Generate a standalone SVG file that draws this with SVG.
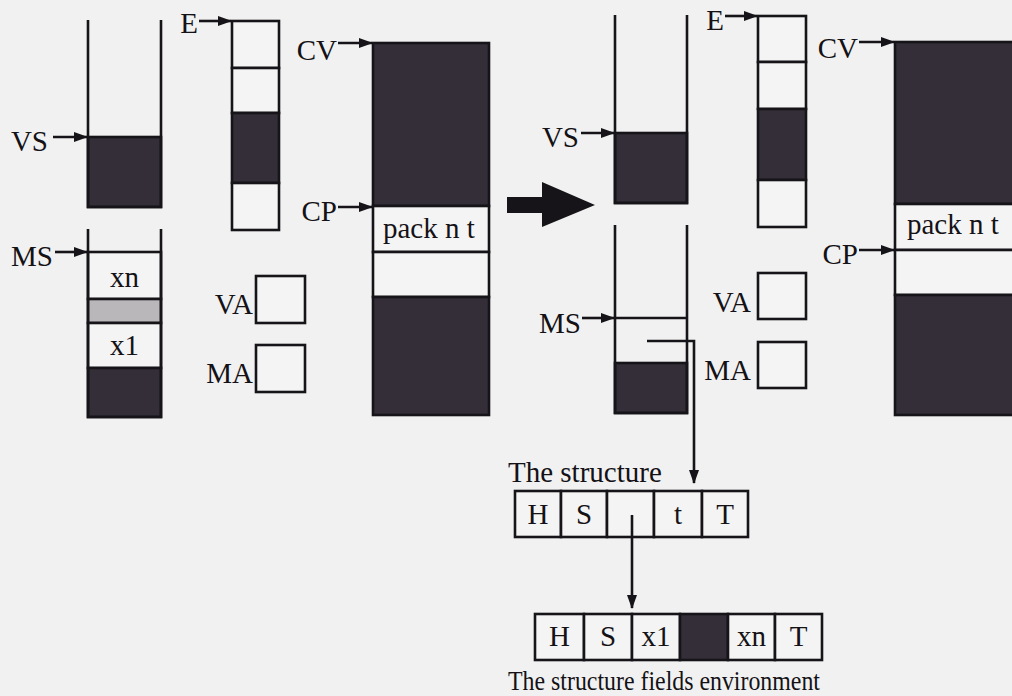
<svg xmlns="http://www.w3.org/2000/svg" width="1012" height="696" viewBox="0 0 1012 696">
<defs>
<style>
.ln{stroke:#161418;stroke-width:2.6;fill:none}
.bx{stroke:#161418;stroke-width:2.6;fill:#f4f4f4}
.dk{fill:#332e38;stroke:#161418;stroke-width:2.6}
.lt{fill:#b9b7ba;stroke:#161418;stroke-width:2.6}
.t{font-family:"Liberation Serif","Times New Roman",serif;font-size:29px;fill:#141216}
.e{text-anchor:end}
.m{text-anchor:middle}
.ar{stroke:#161418;stroke-width:2.6;fill:none;marker-end:url(#ah)}
</style>
<marker id="ah" viewBox="0 0 14 10" refX="13" refY="5" markerWidth="14" markerHeight="10" markerUnits="userSpaceOnUse" orient="auto">
<path d="M0,0 L14,5 L0,10 Z" fill="#161418"/>
</marker>
</defs>
<rect width="1012" height="696" fill="#f1f1f1"/>

<!-- LEFT PANEL -->
<g id="vs-stack-1">
<rect class="dk" x="88" y="137" width="73" height="70"/>
<path class="ln" d="M88,20 V207 H161 V20"/>
<text class="t e" x="48" y="151">VS</text>
</g>
<g id="ms-stack-1">
<rect class="bx" x="88" y="252" width="73" height="47"/>
<rect class="lt" x="88" y="299" width="73" height="24"/>
<rect class="bx" x="88" y="323" width="73" height="45"/>
<rect class="dk" x="88" y="368" width="73" height="49"/>
<path class="ln" d="M88,229 V417 H161 V229"/>
<text class="t m" x="124.5" y="287">xn</text>
<text class="t m" x="124.5" y="355">x1</text>
<text class="t e" x="53" y="266">MS</text>
</g>
<g id="e-array-1">
<rect class="bx" x="232" y="21" width="47" height="47"/>
<rect class="bx" x="232" y="68" width="47" height="45"/>
<rect class="dk" x="232" y="113" width="47" height="70"/>
<rect class="bx" x="232" y="183" width="47" height="47"/>
<text class="t e" x="198" y="33">E</text>
</g>
<g id="va-1">
<rect class="bx" x="256" y="276" width="49" height="47"/>
<text class="t e" x="253" y="314">VA</text>
</g>
<g id="ma-1">
<rect class="bx" x="256" y="345" width="49" height="47"/>
<text class="t e" x="253" y="383">MA</text>
</g>
<g id="code-1">
<rect class="dk" x="373" y="43" width="116" height="163"/>
<rect class="bx" x="373" y="206" width="116" height="46"/>
<rect class="bx" x="373" y="252" width="116" height="45"/>
<rect class="dk" x="373" y="297" width="116" height="118"/>
<text class="t" x="383" y="238">pack n t</text>
<text class="t e" x="337" y="60">CV</text>
<text class="t e" x="337" y="221">CP</text>
</g>

<!-- RIGHT PANEL -->
<g id="vs-stack-2">
<rect class="dk" x="615" y="133" width="72" height="70"/>
<path class="ln" d="M615,15 V203 H687 V15"/>
<text class="t e" x="579" y="147">VS</text>
</g>
<g id="ms-stack-2">
<rect class="dk" x="615" y="363" width="72" height="50"/>
<path class="ln" d="M615,225 V413 H687 V225"/>
<path class="ln" d="M615,318 H687"/>
<text class="t e" x="581" y="333">MS</text>
</g>
<g id="e-array-2">
<rect class="bx" x="758" y="16" width="48" height="46"/>
<rect class="bx" x="758" y="62" width="48" height="47"/>
<rect class="dk" x="758" y="109" width="48" height="71"/>
<rect class="bx" x="758" y="180" width="48" height="47"/>
<text class="t e" x="724" y="30">E</text>
</g>
<g id="va-2">
<rect class="bx" x="758" y="273" width="48" height="46"/>
<text class="t e" x="751" y="312">VA</text>
</g>
<g id="ma-2">
<rect class="bx" x="758" y="342" width="48" height="46"/>
<text class="t e" x="751" y="380">MA</text>
</g>
<g id="code-2">
<rect class="dk" x="895" y="42" width="130" height="162"/>
<rect class="bx" x="895" y="204" width="130" height="46"/>
<rect class="bx" x="895" y="250" width="130" height="45"/>
<rect class="dk" x="895" y="295" width="130" height="120"/>
<text class="t" x="907" y="234">pack n t</text>
<text class="t e" x="858" y="58">CV</text>
<text class="t e" x="858" y="264">CP</text>
</g>

<!-- STRUCTURE -->
<g id="structure">
<text class="t" x="508" y="482">The structure</text>
<rect class="bx" x="515" y="491" width="46" height="46"/>
<rect class="bx" x="561" y="491" width="46" height="46"/>
<rect class="bx" x="607" y="491" width="47" height="46"/>
<rect class="bx" x="654" y="491" width="48" height="46"/>
<rect class="bx" x="702" y="491" width="46" height="46"/>
<text class="t m" x="538" y="524">H</text>
<text class="t m" x="584" y="524">S</text>
<text class="t m" x="678" y="524">t</text>
<text class="t m" x="725" y="524">T</text>
</g>
<g id="fields-env">
<rect class="bx" x="535" y="614" width="49" height="46"/>
<rect class="bx" x="584" y="614" width="48" height="46"/>
<rect class="bx" x="632" y="614" width="48" height="46"/>
<rect class="dk" x="680" y="614" width="48" height="46"/>
<rect class="bx" x="728" y="614" width="47" height="46"/>
<rect class="bx" x="775" y="614" width="47" height="46"/>
<text class="t m" x="559.5" y="646">H</text>
<text class="t m" x="608" y="646">S</text>
<text class="t m" x="656" y="646">x1</text>
<text class="t m" x="751.5" y="646">xn</text>
<text class="t m" x="798.5" y="646">T</text>
<text class="t" x="508" y="690" style="font-size:27px" textLength="312" lengthAdjust="spacingAndGlyphs">The structure fields environment</text>
</g>

<!-- CONNECTORS -->
<g id="connectors">
<path class="ar" d="M53,137 H87"/>
<path class="ar" d="M55,252 H87"/>
<path class="ar" d="M199,21 H231"/>
<path class="ar" d="M338,43 H372"/>
<path class="ar" d="M338,207 H372"/>
<path class="ar" d="M581,133 H614"/>
<path class="ar" d="M582,318 H614"/>
<path class="ar" d="M725,16 H757"/>
<path class="ar" d="M859,42 H894"/>
<path class="ar" d="M859,250 H894"/>
<path class="ar" d="M647,341 H694 V483"/>
<path class="ar" d="M632,515 V608"/>
<polygon id="big-arrow" points="507,197 542,197 542,182 595,205 542,227 542,213 507,213" fill="#161418"/>
</g>
</svg>
